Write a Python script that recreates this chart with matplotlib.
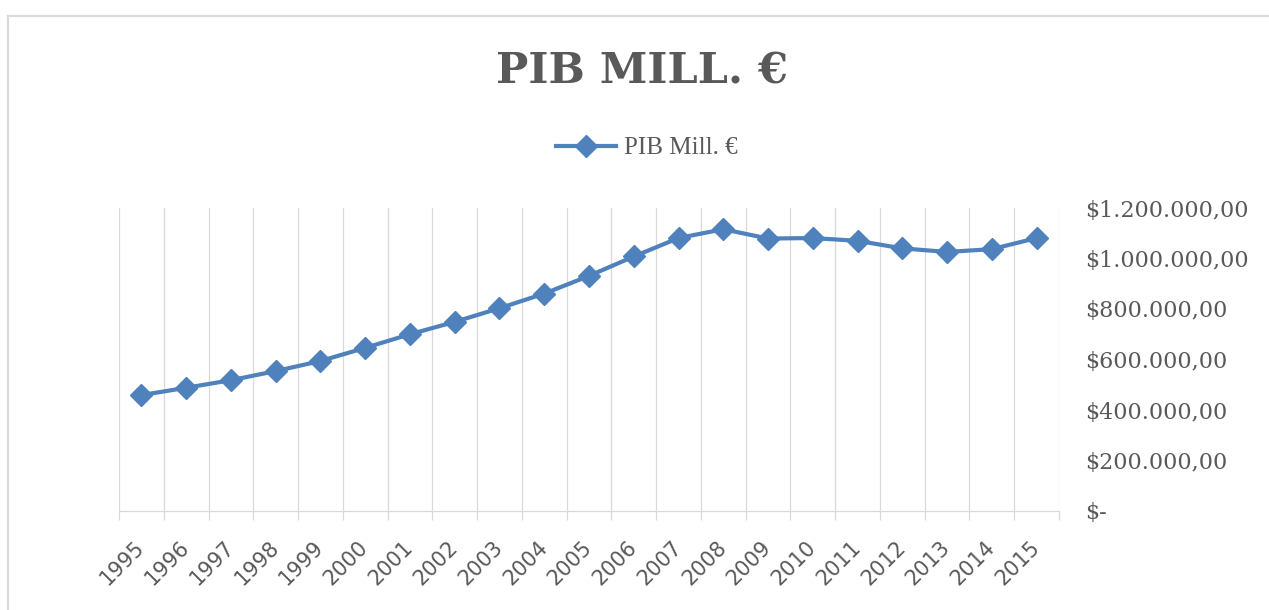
import matplotlib.pyplot as plt
from matplotlib.lines import Line2D
from matplotlib.ticker import FuncFormatter, MultipleLocator

# Data
years = ["1995", "1996", "1997", "1998", "1999", "2000", "2001", "2002", "2003",
         "2004", "2005", "2006", "2007", "2008", "2009", "2010", "2011", "2012",
         "2013", "2014", "2015"]
pib = [459000, 488000, 518000, 554000, 594000, 646000, 700000, 749000, 803000,
       861000, 931000, 1008000, 1081000, 1116000, 1079000, 1081000, 1070000,
       1040000, 1026000, 1037000, 1081000]

blue = "#4F81BD"
grey_txt = "#595959"
grey_ln = "#D9D9D9"

W, H = 1269, 610
fig = plt.figure(figsize=(W / 100, H / 100), dpi=100)
ax = fig.add_axes([119 / W, 1 - 511 / H, (1059 - 119) / W, (511 - 208) / H])

x = list(range(len(years)))
ax.plot(x, pib, color=blue, linewidth=3, marker="D", markersize=11,
        label="PIB Mill. €")

# axes limits and ticks
ax.set_xlim(-0.5, len(years) - 0.5)
ax.set_ylim(0, 1200000)
ax.set_xticks(x)
ax.set_xticklabels(years)
ax.set_xticks([i - 0.5 for i in range(len(years) + 1)], minor=True)
ax.yaxis.set_major_locator(MultipleLocator(200000))


def money(v, pos):
    if v == 0:
        return "$-"
    s = f"{int(v):,}".replace(",", ".")
    return f"${s},00"


ax.yaxis.set_major_formatter(FuncFormatter(money))
ax.yaxis.tick_right()
ax.tick_params(axis="y", length=0, pad=19, labelsize=16, labelcolor=grey_txt)
for lab in ax.get_yticklabels():
    lab.set_fontfamily("DejaVu Serif")
    lab.set_horizontalalignment("left")

ax.tick_params(axis="x", which="major", length=0, pad=24, labelsize=15,
               labelcolor=grey_txt)
ax.tick_params(axis="x", which="minor", length=6.5, width=0.9, color=grey_ln)
for lab in ax.get_xticklabels():
    lab.set_rotation(45)
    lab.set_horizontalalignment("right")
    lab.set_verticalalignment("center")
    lab.set_rotation_mode("anchor")

ax.grid(which="minor", axis="x", color=grey_ln, linewidth=0.9)
ax.grid(which="major", visible=False)
for side in ["top", "left", "right"]:
    ax.spines[side].set_visible(False)
ax.spines["bottom"].set_color(grey_ln)
ax.spines["bottom"].set_linewidth(0.9)

# title and legend
fig.text(642 / W, 1 - 72 / H, "PIB MILL. €", ha="center", va="center",
         fontsize=31, fontweight="bold", family="DejaVu Serif", color=grey_txt)
fig.legend(loc="center", bbox_to_anchor=(647 / W, 1 - 148 / H), frameon=False,
           prop={"family": "Liberation Serif", "size": 18}, labelcolor=grey_txt,
           handlelength=2.4, handletextpad=0.3)

# chart frame
fig.add_artist(Line2D([8 / W, 8 / W], [0, 1 - 16 / H], color=grey_ln, lw=1.6))
fig.add_artist(Line2D([8 / W, 1], [1 - 16 / H, 1 - 16 / H], color=grey_ln, lw=1.6))

fig.savefig("out.png", dpi=100)
